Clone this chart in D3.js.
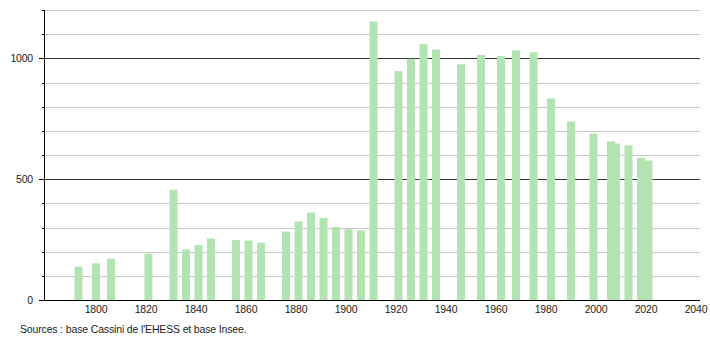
<!DOCTYPE html>
<html>
<head>
<meta charset="utf-8">
<script src="https://cdn.jsdelivr.net/npm/d3@7"></script>
<style>
  html, body { margin: 0; padding: 0; background: #fff; }
  svg { display: block; font-family: "Liberation Sans", Arial, sans-serif; }
</style>
</head>
<body>
<svg id="chart" width="710" height="340"></svg>
<script>
const years = [1793, 1800, 1806, 1821, 1831, 1836, 1841, 1846, 1856, 1861, 1866, 1876, 1881, 1886, 1891, 1896, 1901, 1906, 1911, 1921, 1926, 1931, 1936, 1946, 1954, 1962, 1968, 1975, 1982, 1990, 1999, 2006, 2008, 2013, 2018, 2021];
const population = [138, 152, 171, 191, 456, 209, 228, 254, 248, 246, 237, 283, 325, 362, 340, 302, 293, 288, 1153, 947, 998, 1059, 1037, 975, 1014, 1010, 1033, 1025, 834, 739, 689, 656, 647, 640, 589, 577];
const xTickYears = [1800, 1820, 1840, 1860, 1880, 1900, 1920, 1940, 1960, 1980, 2000, 2020, 2040];
const yTickValues = [0, 500, 1000];
const sourceText = "Sources : base Cassini de l'EHESS et base Insee.";

const svg = d3.select("#chart");
const x = d3.scaleLinear().domain([1780, 2040]).range([46, 696]);
const y = d3.scaleLinear().domain([0, 1200]).range([300, 10]);
const xLeft = 44, xRight = 700;

// gridlines
const grid = d3.range(100, 1201, 100);
svg.append("g").selectAll("line").data(grid).join("line")
  .attr("x1", xLeft).attr("x2", xRight)
  .attr("y1", d => Math.round(y(d)) + 0.5).attr("y2", d => Math.round(y(d)) + 0.5)
  .attr("stroke", d => d % 500 === 0 ? "#333" : "#c8c8c8")
  .attr("stroke-width", 1);

// bars
const bw = 8;
svg.append("g").selectAll("rect").data(years).join("rect")
  .attr("x", (d) => x(d) - bw / 2)
  .attr("width", bw)
  .attr("y", (d, i) => y(population[i]))
  .attr("height", (d, i) => y(0) - y(population[i]))
  .attr("fill", "#b2e4b1");

// y axis line with ticks
const yAxisG = svg.append("g");
yAxisG.append("line")
  .attr("x1", xLeft + 0.5).attr("x2", xLeft + 0.5).attr("y1", y(1200)).attr("y2", y(0) + 0.5)
  .attr("stroke", "#000");
yAxisG.selectAll("line.minor").data(d3.range(0, 1201, 100)).join("line")
  .attr("class", "minor")
  .attr("x1", d => d % 500 === 0 ? 39 : 42).attr("x2", xLeft + 0.5)
  .attr("y1", d => Math.round(y(d)) + 0.5).attr("y2", d => Math.round(y(d)) + 0.5)
  .attr("stroke", "#000");
yAxisG.selectAll("text").data(yTickValues).join("text")
  .attr("x", 33).attr("y", d => y(d) + 4)
  .attr("text-anchor", "end")
  .attr("font-size", 10.5).attr("letter-spacing", -0.2).attr("fill", "#222")
  .text(d => d);

// x axis line
svg.append("line")
  .attr("x1", 39).attr("x2", xRight).attr("y1", y(0) + 0.5).attr("y2", y(0) + 0.5)
  .attr("stroke", "#000");

// x tick labels
svg.append("g").selectAll("text").data(xTickYears).join("text")
  .attr("x", d => x(d)).attr("y", 313)
  .attr("text-anchor", "middle")
  .attr("font-size", 10.5).attr("letter-spacing", -0.2).attr("fill", "#222")
  .text(d => d);

// source
svg.append("text")
  .attr("x", 20).attr("y", 333)
  .attr("font-size", 10.5).attr("letter-spacing", -0.15).attr("fill", "#222")
  .text(sourceText);
</script>
</body>
</html>
